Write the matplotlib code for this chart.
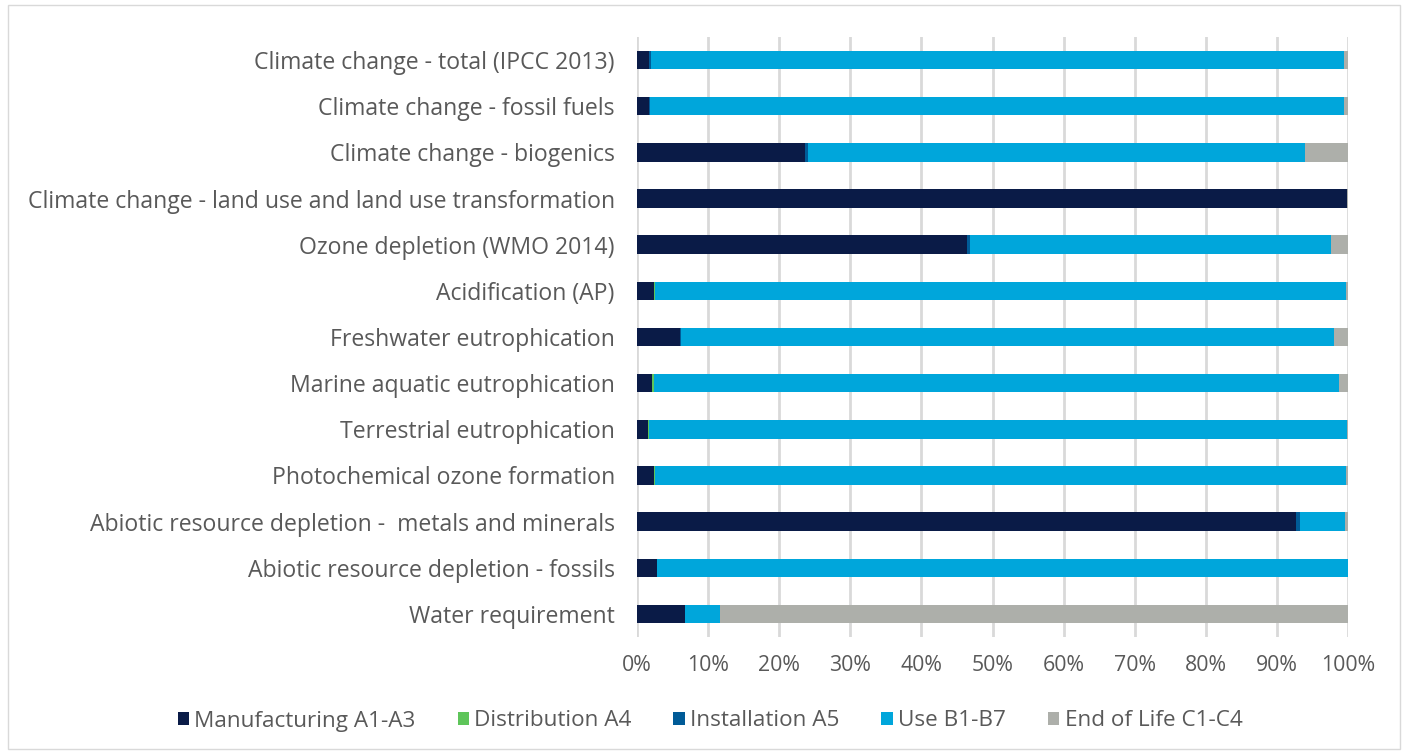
import matplotlib
matplotlib.use("Agg")
import matplotlib.pyplot as plt
from matplotlib.patches import Rectangle
import numpy as np

categories = [
    "Climate change - total (IPCC 2013)",
    "Climate change - fossil fuels",
    "Climate change - biogenics",
    "Climate change - land use and land use transformation",
    "Ozone depletion (WMO 2014)",
    "Acidification (AP)",
    "Freshwater eutrophication",
    "Marine aquatic eutrophication",
    "Terrestrial eutrophication",
    "Photochemical ozone formation",
    "Abiotic resource depletion -  metals and minerals",
    "Abiotic resource depletion - fossils",
    "Water requirement",
]
manufacturing = [1.7, 1.7, 23.6, 99.9, 46.4, 2.4, 6.0, 2.1, 1.5, 2.4, 92.7, 2.8, 6.7]
distribution  = [0.0, 0.0, 0.0, 0.0, 0.0, 0.2, 0.1, 0.3, 0.2, 0.1, 0.0, 0.0, 0.0]
installation  = [0.2, 0.1, 0.5, 0.0, 0.5, 0.0, 0.1, 0.0, 0.0, 0.0, 0.6, 0.0, 0.0]
use           = [97.5, 97.6, 69.8, 0.0, 50.7, 97.1, 91.8, 96.3, 98.2, 97.2, 6.3, 97.15, 5.0]
end_of_life   = [0.6, 0.6, 6.1, 0.1, 2.4, 0.3, 2.0, 1.3, 0.1, 0.3, 0.4, 0.05, 88.3]

series = [
    ("Manufacturing A1-A3", manufacturing, "#0a1b47"),
    ("Distribution A4", distribution, "#5ec55a"),
    ("Installation A5", installation, "#005b97"),
    ("Use B1-B7", use, "#00a6db"),
    ("End of Life C1-C4", end_of_life, "#adafaa"),
]

plt.rcParams['font.family'] = ['Open Sans', 'DejaVu Sans']
txt = "#595959"

fig = plt.figure(figsize=(14.08, 7.53), dpi=100)
ax = fig.add_axes([637/1408, 1-637/753, (1348-637)/1408, (637-37)/753])

y = np.arange(len(categories))
tot = np.array([sum(s[1][i] for s in series) for i in range(len(categories))])
left = np.zeros(len(categories))
for name, vals, col in series:
    v = np.array(vals, dtype=float) / tot * 100
    ax.barh(y, v, left=left, height=0.4, color=col, label=name, zorder=3)
    left += v

ax.set_ylim(len(categories) - 0.5, -0.5)
ax.set_xlim(0, 100)
ax.set_yticks(y)
ax.set_yticklabels(categories, fontsize=16.6, color=txt)
ax.set_xticks(np.arange(0, 101, 10))
ax.set_xticklabels([f"{t}%" for t in range(0, 101, 10)], fontsize=15.3, color=txt)
ax.tick_params(axis='x', length=0, pad=13)
ax.tick_params(axis='y', length=0, pad=16)
ax.grid(axis='x', color="#d9d9d9", linewidth=2, zorder=0)
for s in ax.spines.values():
    s.set_visible(False)

leg = fig.legend(loc='center', bbox_to_anchor=(710/1408, 1-721/753), ncol=5, frameon=False,
                 fontsize=16.2, handlelength=0.5, handleheight=0.5, handletextpad=0.25,
                 columnspacing=1.85, labelcolor=txt)

fig.patches.append(Rectangle((8/1408, 4/753), 1392/1408, 744/753, transform=fig.transFigure,
                             fill=False, edgecolor="#d9d9d9", linewidth=1))

fig.savefig("out.png", dpi=100)
